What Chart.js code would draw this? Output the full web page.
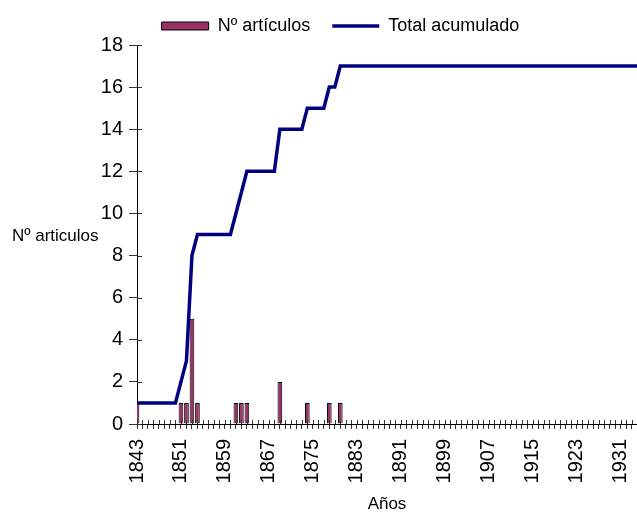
<!DOCTYPE html>
<html>
<head>
<meta charset="utf-8">
<script src="https://cdn.jsdelivr.net/npm/chart.js@4.4.1/dist/chart.umd.min.js"></script>
<style>
  html, body { margin: 0; padding: 0; background: #fff; overflow: hidden; }
  .chart-container { position: relative; width: 637px; height: 515px; }
</style>
</head>
<body>
<div class="chart-container">
  <canvas id="myChart"></canvas>
</div>
<script>
// --- dados ---
var firstYear = 1843;
var lastYear = 1934;
var years = [];
for (var y = firstYear; y <= lastYear; y++) years.push(String(y));

// anos com rótulo no eixo X
var tickYears = ['1843', '1851', '1859', '1867', '1875', '1883', '1891', '1899', '1907', '1915', '1923', '1931'];

// Nº artículos por ano (1843 .. 1934)
var articulos = [
  1, 0, 0, 0, 0, 0, 0, 0,          // 1843-1850
  1, 1, 5, 1, 0, 0, 0, 0, 0, 0,    // 1851-1860
  1, 1, 1, 0, 0, 0, 0, 0, 2, 0,    // 1861-1870
  0, 0, 0, 1, 0, 0, 0, 1, 0, 1,    // 1871-1880
  0, 0, 0, 0, 0, 0, 0, 0, 0, 0,    // 1881-1890
  0, 0, 0, 0, 0, 0, 0, 0, 0, 0,    // 1891-1900
  0, 0, 0, 0, 0, 0, 0, 0, 0, 0,    // 1901-1910
  0, 0, 0, 0, 0, 0, 0, 0, 0, 0,    // 1911-1920
  0, 0, 0, 0, 0, 0, 0, 0, 0, 0,    // 1921-1930
  0, 0, 0, 0                       // 1931-1934
];

// Total acumulado por ano (1843 .. 1934)
var acumulado = [
  1, 1, 1, 1, 1, 1, 1, 1,                    // 1843-1850
  2, 3, 8, 9, 9, 9, 9, 9, 9, 9,              // 1851-1860
  10, 11, 12, 12, 12, 12, 12, 12, 14, 14,    // 1861-1870
  14, 14, 14, 15, 15, 15, 15, 16, 16, 17,    // 1871-1880
  17, 17, 17, 17, 17, 17, 17, 17, 17, 17,    // 1881-1890
  17, 17, 17, 17, 17, 17, 17, 17, 17, 17,    // 1891-1900
  17, 17, 17, 17, 17, 17, 17, 17, 17, 17,    // 1901-1910
  17, 17, 17, 17, 17, 17, 17, 17, 17, 17,    // 1911-1920
  17, 17, 17, 17, 17, 17, 17, 17, 17, 17,    // 1921-1930
  17, 17, 17, 17                             // 1931-1934
];

var FONT = "'Liberation Sans', Arial, sans-serif";

// marcas de escala que cruzam o eixo (parte interna)
var crossTicks = {
  id: 'crossTicks',
  afterDraw: function(chart) {
    var ctx = chart.ctx, xs = chart.scales.x, ys = chart.scales.y;
    ctx.save();
    ctx.strokeStyle = '#333';
    ctx.lineWidth = 1;
    ctx.beginPath();
    xs.ticks.forEach(function(t, i) {
      var px = Math.round(xs.getPixelForTick(i)) + 0.5;
      ctx.moveTo(px, ys.bottom);
      ctx.lineTo(px, ys.bottom - 4);
    });
    ys.ticks.forEach(function(t, i) {
      var py = Math.round(ys.getPixelForTick(i)) + 0.5;
      ctx.moveTo(xs.left, py);
      ctx.lineTo(xs.left + 5, py);
    });
    ctx.stroke();
    ctx.restore();
  }
};

// título do eixo Y na horizontal
var yTitle = {
  id: 'yTitle',
  afterDraw: function(chart) {
    var ctx = chart.ctx, area = chart.chartArea;
    ctx.save();
    ctx.font = '17px ' + FONT;
    ctx.fillStyle = '#000';
    ctx.textAlign = 'left';
    ctx.textBaseline = 'middle';
    ctx.fillText('Nº articulos', 12, (area.top + area.bottom) / 2 + 2);
    ctx.restore();
  }
};

var ctx = document.getElementById('myChart').getContext('2d');
var chart = new Chart(ctx, {
  type: 'bar',
  data: {
    labels: years,
    datasets: [
      {
        label: 'Nº artículos',
        data: articulos,
        backgroundColor: '#993366',
        borderColor: '#000',
        borderWidth: 1,
        barPercentage: 0.85,
        categoryPercentage: 1,
        pointStyle: 'rect',
        order: 1
      },
      {
        type: 'line',
        label: 'Total acumulado',
        data: acumulado,
        borderColor: '#000080',
        backgroundColor: '#000080',
        borderWidth: 3.5,
        pointRadius: 0,
        tension: 0,
        pointStyle: 'line',
        order: 0
      }
    ]
  },
  options: {
    responsive: true,
    maintainAspectRatio: false,
    animation: false,
    layout: { padding: { top: -9, left: 44, right: 0, bottom: 0 } },
    plugins: {
      tooltip: { enabled: false },
      legend: {
        display: true,
        position: 'top',
        labels: {
          usePointStyle: true,
          pointStyleWidth: 47,
          boxHeight: 8,
          padding: 22,
          color: '#000',
          font: { family: FONT, size: 18 },
          sort: function(a, b) { return a.datasetIndex - b.datasetIndex; }
        }
      }
    },
    scales: {
      x: {
        type: 'category',
        offset: false,
        grid: { offset: false, drawOnChartArea: false, drawTicks: true, tickLength: 5, color: '#333' },
        border: { display: true, color: '#000', width: 1 },
        ticks: {
          autoSkip: false,
          minRotation: 90,
          maxRotation: 90,
          padding: 10,
          color: '#000',
          font: { family: FONT, size: 20 },
          callback: function(val, idx) {
            var lab = this.getLabelForValue(val);
            return tickYears.indexOf(lab) >= 0 ? lab : '';
          }
        },
        title: {
          display: true,
          text: 'Años',
          color: '#000',
          font: { family: FONT, size: 17 },
          padding: { top: 0, bottom: 0 }
        },
        afterFit: function(scale) {
          scale.height = 91;
          scale.paddingLeft = 0;
          scale.paddingRight = 0;
        }
      },
      y: {
        min: 0,
        max: 18,
        grid: { drawOnChartArea: false, drawTicks: true, tickLength: 8, color: '#333' },
        border: { display: true, color: '#000', width: 1 },
        ticks: {
          stepSize: 2,
          padding: 6,
          color: '#000',
          font: { family: FONT, size: 20 }
        },
        afterFit: function(scale) {
          scale.width = 93;
          scale.paddingTop = 45;
        }
      }
    }
  },
  plugins: [crossTicks, yTitle]
});
</script>
</body>
</html>
